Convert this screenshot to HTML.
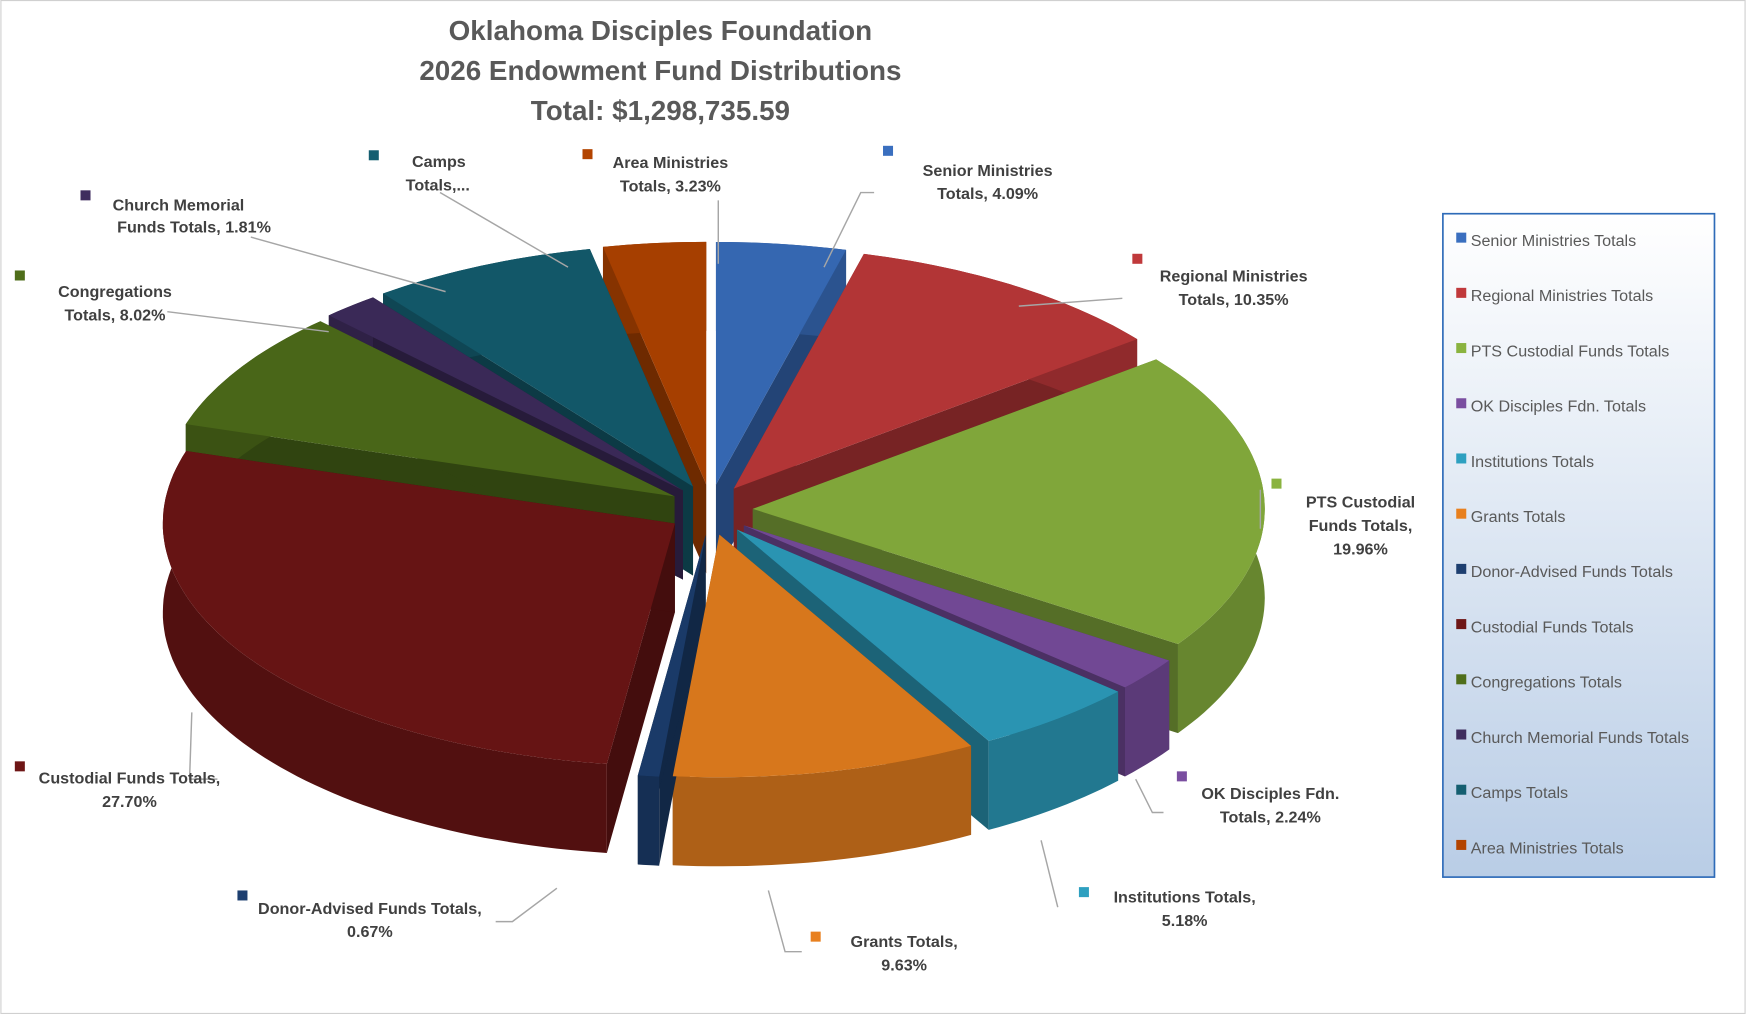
<!DOCTYPE html>
<html><head><meta charset="utf-8"><style>
html,body{margin:0;padding:0;background:#fff;}
svg{display:block;font-family:"Liberation Sans",sans-serif;}
</style></head><body>
<svg id="s" width="1746" height="1014" viewBox="0 0 1568 911" xmlns="http://www.w3.org/2000/svg">
<defs>
<linearGradient id="lg" x1="0" y1="0" x2="0" y2="1"><stop offset="0" stop-color="#ffffff"/><stop offset="1" stop-color="#b9cde6"/></linearGradient>
</defs>
<rect x="0.5" y="0.5" width="1567" height="910" fill="#fff" stroke="#d0d0d0"/>
<g font-weight="bold" fill="#595959" font-size="25" text-anchor="middle">
<text x="593" y="36">Oklahoma Disciples Foundation</text>
<text x="593" y="72">2026 Endowment Fund Distributions</text>
<text x="593" y="108">Total: $1,298,735.59</text>
</g>
<g id="pie"></g>
<g stroke="#a6a6a6" stroke-width="1.3" fill="none">
<polyline points="785,173 773,173 740,240"/>
<polyline points="1008,268 915,275"/>
<polyline points="1132,440 1132,475"/>
<polyline points="1045,730 1035,730 1020,700"/>
<polyline points="950,815 935,755"/>
<polyline points="720,855 705,855 690,800"/>
<polyline points="445,828 460,828 500,798"/>
<polyline points="195,700 170,700 172,640"/>
<polyline points="150,280 295,298"/>
<polyline points="225,213 400,262"/>
<polyline points="395,173 510,240"/>
<polyline points="645,180 645,237"/>
</g>
<g font-size="14.5" font-weight="bold" fill="#404040" text-anchor="middle">
<rect x="793" y="131" width="9" height="9" fill="#3a6fbf"/><text x="887" y="158">Senior Ministries</text><text x="887" y="179">Totals, 4.09%</text>
<rect x="1017" y="228" width="9" height="9" fill="#c0393b"/><text x="1108" y="253">Regional Ministries</text><text x="1108" y="274">Totals, 10.35%</text>
<rect x="1142" y="430" width="9" height="9" fill="#8ab33f"/><text x="1222" y="456">PTS Custodial</text><text x="1222" y="477">Funds Totals,</text><text x="1222" y="498">19.96%</text>
<rect x="1057" y="693" width="9" height="9" fill="#7a4ea0"/><text x="1141" y="718">OK Disciples Fdn.</text><text x="1141" y="739">Totals, 2.24%</text>
<rect x="969" y="797" width="9" height="9" fill="#2ea0c0"/><text x="1064" y="811">Institutions Totals,</text><text x="1064" y="832">5.18%</text>
<rect x="728" y="837" width="9" height="9" fill="#e8801f"/><text x="812" y="851">Grants Totals,</text><text x="812" y="872">9.63%</text>
<rect x="213" y="800" width="9" height="9" fill="#1d3f70"/><text x="332" y="821">Donor-Advised Funds Totals,</text><text x="332" y="842">0.67%</text>
<rect x="13" y="684" width="9" height="9" fill="#6e1616"/><text x="116" y="704">Custodial Funds Totals,</text><text x="116" y="725">27.70%</text>
<rect x="13" y="243" width="9" height="9" fill="#4f6e1a"/><text x="103" y="267">Congregations</text><text x="103" y="288">Totals, 8.02%</text>
<rect x="72" y="171" width="9" height="9" fill="#3f2d5e"/><text x="160" y="189">Church Memorial</text><text x="174" y="209">Funds Totals, 1.81%</text>
<rect x="331" y="135" width="9" height="9" fill="#145e70"/><text x="394" y="150">Camps</text><text x="393" y="171">Totals,...</text>
<rect x="523" y="134" width="9" height="9" fill="#b34400"/><text x="602" y="151">Area Ministries</text><text x="602" y="172">Totals, 3.23%</text>
</g>
<rect x="1296" y="192" width="244" height="596" fill="url(#lg)" stroke="#2e6bb8" stroke-width="1.5"/>
<g id="leg" font-size="14.5" fill="#595959"></g>
</svg>
<script>
var d=[["Senior Ministries Totals",4.09,"#3a6fbf"],["Regional Ministries Totals",10.35,"#c0393b"],["PTS Custodial Funds Totals",19.96,"#8ab33f"],["OK Disciples Fdn. Totals",2.24,"#7a4ea0"],["Institutions Totals",5.18,"#2ea0c0"],["Grants Totals",9.63,"#e8801f"],["Donor-Advised Funds Totals",0.67,"#1d3f70"],["Custodial Funds Totals",27.70,"#6e1616"],["Congregations Totals",8.02,"#4f6e1a"],["Church Memorial Funds Totals",1.81,"#3f2d5e"],["Camps Totals",7.12,"#145e70"],["Area Ministries Totals",3.23,"#b34400"]];
var NS="http://www.w3.org/2000/svg";
var cx=638,cy=458,rx=460,ry=218,dep=80,ex=38;
function dk(c,f){var n=parseInt(c.slice(1),16),r=(n>>16)*f|0,g=((n>>8)&255)*f|0,b=(n&255)*f|0;return"rgb("+r+","+g+","+b+")";}
var a=0,sl=[];
d.forEach(function(x){var a0=a*Math.PI/50,a1=(a+x[1])*Math.PI/50;a+=x[1];var m=(a0+a1)/2;sl.push({a0:a0,a1:a1,m:m,c:x[2],ox:ex*Math.sin(m),oy:-ex*0.6*Math.cos(m)});});
function P(s,t,z){return[cx+s.ox+rx*Math.sin(t),cy+s.oy-ry*Math.cos(t)+z];}
function arc(s,t0,t1,z,n){var p=[];for(var i=0;i<=n;i++){p.push(P(s,t0+(t1-t0)*i/n,z));}return p;}
function poly(pts,fill,g){var e=document.createElementNS(NS,"polygon");e.setAttribute("points",pts.map(function(q){return q[0].toFixed(1)+","+q[1].toFixed(1)}).join(" "));e.setAttribute("fill",fill);g.appendChild(e);}
var g=document.getElementById("pie");
var ord=sl.slice().sort(function(p,q){return -Math.cos(p.m)- -Math.cos(q.m);});
ord.forEach(function(s){
 var C=[cx+s.ox,cy+s.oy];
 [s.a0,s.a1].forEach(function(t){var p=P(s,t,0);poly([C,p,[p[0],p[1]+dep],[C[0],C[1]+dep]],dk(s.c,0.62),g);});
 var n=Math.max(4,Math.ceil((s.a1-s.a0)*40));
 var top=arc(s,s.a0,s.a1,0,n),bot=arc(s,s.a0,s.a1,dep,n).reverse();
 poly(top.concat(bot),dk(s.c,0.75),g);
});
ord.forEach(function(s){var n=Math.max(4,Math.ceil((s.a1-s.a0)*40));poly([[cx+s.ox,cy+s.oy]].concat(arc(s,s.a0,s.a1,0,n)),dk(s.c,0.93),g);});
var L=document.getElementById("leg");
d.forEach(function(x,i){var y=216+i*49.6;var r=document.createElementNS(NS,"rect");r.setAttribute("x",1308);r.setAttribute("y",y-7);r.setAttribute("width",9);r.setAttribute("height",9);r.setAttribute("fill",x[2]);L.appendChild(r);var t=document.createElementNS(NS,"text");t.setAttribute("x",1321);t.setAttribute("y",y+5);t.textContent=x[0];L.appendChild(t);});
</script>
</body></html>
